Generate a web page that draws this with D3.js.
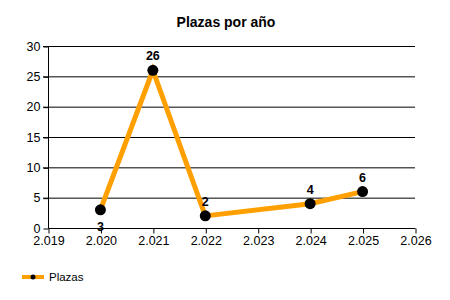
<!DOCTYPE html>
<head>
  <meta charset="utf-8">
  <title>Plazas por año</title>
  <script src="https://cdn.jsdelivr.net/npm/d3@7"></script>
  <style>
  body { margin: 0; background: #fff; }
  svg { font-family: "Liberation Sans", Arial, sans-serif; }
  .grid line { stroke: #000; stroke-width: 1px; }
  </style>
</head>
<body>
<script type="text/javascript">
  var WIDTH = 450;
  var HEIGHT = 300;

  // data
  var years = [2020, 2021, 2022, 2024, 2025];
  var plazas = [3, 26, 2, 4, 6];
  var xTicks = [2019, 2020, 2021, 2022, 2023, 2024, 2025, 2026];
  var yTicks = [0, 5, 10, 15, 20, 25, 30];
  var labelBelow = [true, false, false, false, false];

  var svg = d3.select("body").append("svg")
              .attr("width", WIDTH)
              .attr("height", HEIGHT);

  var x = d3.scaleLinear().domain([2019, 2026]).range([48, 415]);
  var y = d3.scaleLinear().domain([0, 30]).range([228, 46]);

  // title
  svg.append("text")
    .attr("x", 226).attr("y", 27)
    .attr("text-anchor", "middle")
    .style("font-size", "14px").style("font-weight", "bold")
    .text("Plazas por año");

  // horizontal grid
  svg.append("g").attr("class", "grid")
    .selectAll("line")
    .data(yTicks.filter(function(d){ return d > 0; }))
    .enter().append("line")
    .attr("x1", 43).attr("x2", 415)
    .attr("y1", function(d){ return y(d) + 0.5; })
    .attr("y2", function(d){ return y(d) + 0.5; });

  // y axis
  var yAxis = svg.append("g")
    .attr("transform", "translate(48.5,0.5)")
    .call(d3.axisLeft(y).tickValues(yTicks).tickSize(5).tickPadding(3));
  yAxis.select(".domain").attr("d", "M0," + y(30) + "V" + y(0));

  // x axis
  var xAxis = svg.append("g")
    .attr("transform", "translate(0.5," + (y(0) + 0.5) + ")")
    .call(d3.axisBottom(x).tickValues(xTicks).tickSize(5).tickPadding(3)
      .tickFormat(function(d){ return String(d).replace(/^(\d)/, "$1."); }));
  xAxis.select(".domain").attr("d", "M" + x(2019) + ",0H" + x(2026));

  svg.selectAll(".tick text")
    .style("font-size", "12.5px")
    .attr("fill", "#000");
  yAxis.selectAll(".tick text").attr("dy", "0.3em");
  svg.selectAll(".tick line, .domain").attr("stroke", "#000");

  var pts = years.map(function(d, i){ return {x: d, y: plazas[i], below: labelBelow[i]}; });

  // line
  var line = d3.line()
    .x(function(d){ return x(d.x); })
    .y(function(d){ return y(d.y); });

  svg.append("path")
    .datum(pts)
    .attr("d", line)
    .attr("fill", "none")
    .attr("stroke", "#FFA000")
    .attr("stroke-width", 5)
    .attr("stroke-linejoin", "miter");

  svg.append("g").selectAll("circle")
    .data(pts)
    .enter().append("circle")
    .attr("cx", function(d){ return x(d.x); })
    .attr("cy", function(d){ return y(d.y); })
    .attr("r", 5.5)
    .attr("fill", "#000");

  // data labels
  svg.append("g").selectAll("text")
    .data(pts)
    .enter().append("text")
    .attr("x", function(d){ return x(d.x); })
    .attr("y", function(d){ return d.below ? y(d.y) + 21 : y(d.y) - 10; })
    .attr("text-anchor", "middle")
    .style("font-size", "12.5px").style("font-weight", "bold")
    .text(function(d){ return d.y; });

  // legend
  var lg = svg.append("g").attr("transform", "translate(22,277)");
  lg.append("line").attr("x1", 0).attr("x2", 22).attr("y1", 0).attr("y2", 0)
    .attr("stroke", "#FFA000").attr("stroke-width", 4);
  lg.append("circle").attr("cx", 11).attr("cy", 0).attr("r", 2.5).attr("fill", "#000");
  lg.append("text").attr("x", 27).attr("y", 4)
    .style("font-size", "11.5px").text("Plazas");
</script>
</body>
